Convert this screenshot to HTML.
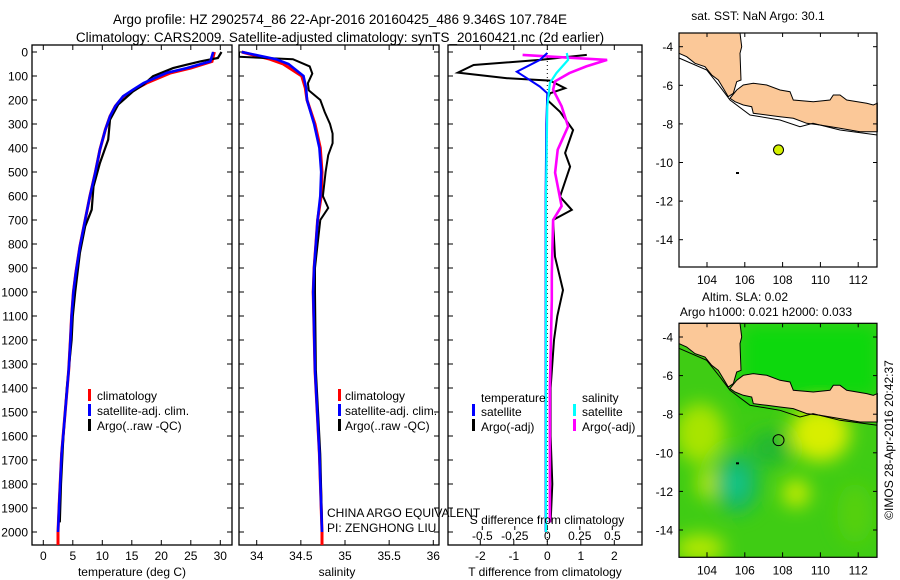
<!DOCTYPE html>
<html><head><meta charset="utf-8">
<style>
html,body{margin:0;padding:0;background:#fff;}
svg{display:block;font-family:"Liberation Sans",Arial,sans-serif;}
</style></head>
<body>
<svg id="fig" width="900" height="580" viewBox="0 0 900 580" xmlns="http://www.w3.org/2000/svg">
<defs>
<clipPath id="c1"><rect x="32" y="45" width="200" height="500"/></clipPath>
<clipPath id="c2"><rect x="239" y="45" width="200" height="500"/></clipPath>
<clipPath id="c3"><rect x="448" y="45" width="194" height="500"/></clipPath>
<clipPath id="cm1"><rect x="679" y="33" width="198" height="234"/></clipPath>
<clipPath id="cm2"><rect x="679" y="323" width="198" height="234"/></clipPath>
<filter id="blur" x="-50%" y="-50%" width="200%" height="200%"><feGaussianBlur stdDeviation="9"/></filter>
</defs>
<text x="340" y="24" font-size="13.5" text-anchor="middle">Argo profile: HZ 2902574_86 22-Apr-2016 20160425_486 9.346S 107.784E</text>
<text x="340" y="42" font-size="13.5" text-anchor="middle">Climatology: CARS2009. Satellite-adjusted climatology: synTS_20160421.nc (2d earlier)</text>

<g id="p1"></g>
<g id="p2"></g>
<g id="p3"></g>

<g font-size="12">
<rect x="88" y="389" width="3" height="12" fill="#f00"/><text x="97" y="400">climatology</text>
<rect x="88" y="404" width="3" height="12" fill="#00f"/><text x="97" y="415">satellite-adj. clim.</text>
<rect x="88" y="419" width="3" height="12" fill="#000"/><text x="97" y="430">Argo(..raw -QC)</text>
</g>
<g font-size="12">
<rect x="338" y="389" width="3" height="12" fill="#f00"/><text x="345" y="400">climatology</text>
<rect x="338" y="404" width="3" height="12" fill="#00f"/><text x="345" y="415">satellite-adj. clim.</text>
<rect x="338" y="419" width="3" height="12" fill="#000"/><text x="345" y="430">Argo(..raw -QC)</text>
</g>
<g font-size="12">
<text x="481" y="402">temperature</text>
<rect x="472" y="404" width="3" height="12" fill="#00f"/><text x="481" y="416">satellite</text>
<rect x="472" y="419" width="3" height="12" fill="#000"/><text x="481" y="431">Argo(-adj)</text>
<text x="582" y="402">salinity</text>
<rect x="573" y="404" width="3" height="12" fill="#0ff"/><text x="582" y="416">satellite</text>
<rect x="573" y="419" width="3" height="12" fill="#f0f"/><text x="582" y="431">Argo(-adj)</text>
</g>
<text x="327" y="517" font-size="12">CHINA ARGO EQUIVALENT</text>
<text x="327" y="532" font-size="12">PI: ZENGHONG LIU</text>

<text x="132" y="576" font-size="12" text-anchor="middle">temperature (deg C)</text>
<text x="337" y="576" font-size="12" text-anchor="middle">salinity</text>
<text x="545" y="576" font-size="12" text-anchor="middle">T difference from climatology</text>
<text x="547" y="524" font-size="12" text-anchor="middle">S difference from climatology</text>

<text x="758" y="20" font-size="12" text-anchor="middle">sat. SST: NaN Argo: 30.1</text>
<g id="m1"></g>
<text x="745" y="301" font-size="12" text-anchor="middle">Altim. SLA: 0.02</text>
<text x="766" y="316" font-size="12" text-anchor="middle">Argo h1000: 0.021 h2000: 0.033</text>
<g id="m2"></g>
<text x="0" y="0" font-size="12" transform="translate(893,440) rotate(-90)" text-anchor="middle">©IMOS 28-Apr-2016 20:42:37</text>
</svg>
<script>
const depthTempClim = [0,39,67,87,129,157,185,226,268,324,407,504,601,699,810,921,1000,1100,1200,1325,1533,1675,1883,2000,2054];
const tempClim = [29.0,28.6,25.0,21.6,17.5,15.4,13.6,12.2,11.3,10.5,9.6,8.8,7.9,7.1,6.2,5.5,5.1,4.8,4.6,4.3,3.6,3.1,2.7,2.5,2.5];
const depthTempSat = [0,39,67,87,129,157,185,226,268,324,407,504,601,699,810,921,1000,1100,1200,1325,1533,1675,1883,2000];
const tempSat = [28.8,28.3,24.3,20.9,17.0,15.2,13.5,12.2,11.3,10.5,9.6,8.8,7.9,7.1,6.2,5.5,5.1,4.8,4.6,4.3,3.6,3.1,2.7,2.5];
const depthTempArgo = [0,25,39,53,67,101,136,164,219,282,365,463,560,657,726,837,1000,1100,1200,1400,1600,1800,1960];
const tempArgo = [30.2,29.6,26.6,24.3,22.0,18.6,17.0,15.2,12.7,11.3,11.0,9.6,8.5,8.2,7.1,6.2,5.4,5.0,4.8,4.0,3.4,3.0,2.8];

const depthSalClim = [0,30,50,100,150,200,300,400,500,600,700,800,900,1000,1325,1675,2000,2054];
const salClim = [33.83,34.15,34.30,34.51,34.55,34.57,34.66,34.72,34.74,34.73,34.69,34.67,34.65,34.64,34.66,34.71,34.74,34.74];
const depthSalSat = [0,30,50,100,150,200,300,400,500,600,700,800,900,1000,1325,1675,2000];
const salSat = [33.83,34.22,34.36,34.53,34.56,34.57,34.65,34.71,34.73,34.72,34.69,34.67,34.65,34.64,34.66,34.71,34.74];
const depthSalArgo = [0,20,25,30,60,90,130,160,200,250,300,340,380,430,500,600,650,700,800,900,1000,1325,1675,1960];
const salArgo = [33.8,33.8,34.1,34.41,34.6,34.63,34.58,34.59,34.72,34.77,34.83,34.86,34.86,34.81,34.78,34.75,34.81,34.72,34.69,34.66,34.66,34.67,34.72,34.74];

const depthTdArgo = [12,33,54,86,109,119,151,172,200,249,325,421,478,603,658,700,853,992,1100,1200,1400,1600,1800,1960];
const tdArgo = [1.18,-0.22,-2.2,-2.67,-1.2,0.08,0.53,0.08,0.0,0.38,0.77,0.53,0.68,0.38,0.73,0.17,0.23,0.47,0.3,0.2,0.1,0.1,0.15,0.1];
const depthTdSat = [4,33,82,109,144,172,300,600,1000,1400,2000];
const tdSat = [0.0,-0.22,-0.91,-0.61,-0.22,0.0,-0.03,-0.05,-0.05,-0.05,-0.05];
const depthSdArgo = [12,33,60,88,122,157,226,310,407,503,642,700,922,1033,1400,1800,1960];
const sdArgo = [-0.19,0.46,0.30,0.17,0.06,0.045,0.11,0.16,0.08,0.06,0.11,0.045,0.035,0.035,0.02,0.02,0.02];
const depthSdSat = [4,33,88,129,226,600,1000,1400,2000];
const sdSat = [0.15,0.16,0.07,0.02,0.0,-0.01,-0.01,-0.01,-0.01];

const depthTicks = [0,100,200,300,400,500,600,700,800,900,1000,1100,1200,1300,1400,1500,1600,1700,1800,1900,2000];
const tempTicks = [0,5,10,15,20,25,30];
const salTicks = [34,34.5,35,35.5,36];
const tdTicks = [-2,-1,0,1,2];
const sdTicks = [-0.5,-0.25,0,0.25,0.5];
const lonTicks = [104,106,108,110,112];
const latTicks = [-4,-6,-8,-10,-12,-14];
const argoLon = 107.784, argoLat = -9.346;

const NS = 'http://www.w3.org/2000/svg';
const yD = d => 52 + d * 0.24;
const xT = t => 43.3 + t * 5.9;
const xS = s => 256.7 + (s - 34) * 88.3;
const xTd = v => 547.3 + v * 33.5;
const xSd = v => 547.3 + v * 130;
const mLon = l => 707 + (l - 104) * 18.9;
const mLat = (l, off) => off + 46.7 + (-4 - l) * 19.3;

function el(tag, attrs, parent) {
  const e = document.createElementNS(NS, tag);
  for (const k in attrs) e.setAttribute(k, attrs[k]);
  parent.appendChild(e);
  return e;
}
function series(parent, depths, vals, xf, color, w, clip, name) {
  const pts = depths.map((d, i) => xf(vals[i]).toFixed(1) + ',' + yD(d).toFixed(1)).join(' ');
  const p = el('polyline', {points: pts, fill: 'none', stroke: color, 'stroke-width': w, 'clip-path': 'url(#' + clip + ')', 'stroke-linejoin': 'miter'}, parent);
  
  
}
function frame(parent, x0, x1, name) {
  const r = el('rect', {x: x0, y: 45, width: x1 - x0, height: 500, fill: 'none', stroke: '#000', 'stroke-width': 1.3}, parent);
  
  
  depthTicks.forEach(d => {
    el('line', {x1: x0, x2: x0 + 5, y1: yD(d), y2: yD(d), stroke: '#000'}, parent);
    el('line', {x1: x1 - 5, x2: x1, y1: yD(d), y2: yD(d), stroke: '#000'}, parent);
  });
}
function xticks(parent, ticks, xf, ly, fmt, top, name) {
  ticks.forEach(t => {
    const x = xf(t);
    el('line', {x1: x, x2: x, y1: 540, y2: 545, stroke: '#000'}, parent);
    if (top) el('line', {x1: x, x2: x, y1: 45, y2: 50, stroke: '#000'}, parent);
    const tx = el('text', {x: x, y: ly, 'font-size': 12, 'text-anchor': 'middle'}, parent);
    tx.textContent = fmt ? fmt(t) : String(t);
    
    
  });
}

const p1 = document.getElementById('p1');
frame(p1, 32, 232, 'temperature-plot-frame');
depthTicks.forEach(d => {
  const t = el('text', {x: 28, y: yD(d) + 4.5, 'font-size': 12, 'text-anchor': 'end'}, p1);
  t.textContent = String(d);
  
  
});
xticks(p1, tempTicks, xT, 560, null, true, 'temperature-tick-label');
series(p1, depthTempClim, tempClim, xT, '#f00', 3, 'c1', 'temperature-climatology-line');
series(p1, depthTempArgo, tempArgo, xT, '#000', 2.2, 'c1', 'temperature-argo-line');
series(p1, depthTempSat, tempSat, xT, '#00f', 2.6, 'c1', 'temperature-satellite-line');

const p2 = document.getElementById('p2');
frame(p2, 239, 439, 'salinity-plot-frame');
xticks(p2, salTicks, xS, 560, null, true, 'salinity-tick-label');
series(p2, depthSalClim, salClim, xS, '#f00', 3, 'c2', 'salinity-climatology-line');
series(p2, depthSalArgo, salArgo, xS, '#000', 2, 'c2', 'salinity-argo-line');
series(p2, depthSalSat, salSat, xS, '#00f', 2.6, 'c2', 'salinity-satellite-line');

const p3 = document.getElementById('p3');
frame(p3, 448, 642, 'difference-plot-frame');
xticks(p3, tdTicks, xTd, 560, null, true, 't-difference-tick-label');
sdTicks.forEach(t => {
  const x = xSd(t);
  el('line', {x1: x, x2: x, y1: 526, y2: 530, stroke: '#000'}, p3);
  const tx = el('text', {x: x, y: 540, 'font-size': 12, 'text-anchor': 'middle'}, p3);
  tx.textContent = String(t);
  
  
});
const zl = el('line', {x1: xTd(0), x2: xTd(0), y1: 45, y2: 545, stroke: '#000', 'stroke-dasharray': '1,3'}, p3);


series(p3, depthTdArgo, tdArgo, xTd, '#000', 2, 'c3', 't-difference-argo-line');
series(p3, depthSdArgo, sdArgo, xSd, '#f0f', 2.6, 'c3', 's-difference-argo-line');
series(p3, depthTdSat, tdSat, xTd, '#00f', 2, 'c3', 't-difference-satellite-line');
series(p3, depthSdSat, sdSat, xSd, '#0ff', 2.2, 'c3', 's-difference-satellite-line');

const sumatra = [[0,0],[61,0],[62.7,13.7],[61,20.3],[62,47],[57.7,48.7],[54.3,60.3],[49.3,63.7],[44.3,55.3],[39.3,47],[32.7,42],[26,33.7],[16,30.3],[7.7,23.7],[0,20.3]];
const java = [[57.7,57],[64.3,52],[74.3,50.3],[87.7,52],[101,57],[111,58.7],[114.3,67],[134.3,68.7],[151,67],[154.3,62],[161,62],[167.7,67],[187.7,70.3],[194.3,72],[198.3,70.3],[198.3,98.7],[181,98.7],[161,95.3],[141,92],[127.7,90.3],[114.3,85.3],[101,83.7],[87.7,82],[74.3,80.3],[72.7,73.7],[64.3,72],[56,68.7],[51,65.3]];
const shelf = [[0,25],[27.7,37],[41,53.7],[51,67],[71,82],[101,87],[121,93.7],[134,90.3],[161,97],[198.3,102]];
function poly(pts, ox, oy) { return pts.map(p => (p[0] + ox).toFixed(1) + ',' + (p[1] + oy).toFixed(1)).join(' '); }

function drawMap(g, oy, clip, colored) {
  const top = 33 + oy;
  if (colored) {
    const cg = el('g', {'clip-path': 'url(#' + clip + ')'}, g);
    el('rect', {x: 679, y: top, width: 198, height: 234, fill: '#3fcc14'}, cg);
    const bg = el('g', {filter: 'url(#blur)'}, cg);
    el('rect', {x: 740, y: top, width: 140, height: 75, fill: '#11d811'}, bg);
    el('ellipse', {cx: 820, cy: top + 110, rx: 30, ry: 28, fill: '#d8ee00'}, bg);
    el('ellipse', {cx: 700, cy: top + 110, rx: 25, ry: 30, fill: '#a8e400'}, bg);
    el('ellipse', {cx: 710, cy: top + 160, rx: 14, ry: 16, fill: '#b0e600'}, bg);
    el('ellipse', {cx: 796, cy: top + 170, rx: 14, ry: 14, fill: '#c6ec00'}, bg);
    el('ellipse', {cx: 737, cy: top + 160, rx: 22, ry: 30, fill: '#14b860'}, bg);
    el('ellipse', {cx: 735, cy: top + 160, rx: 10, ry: 14, fill: '#18c890'}, bg);
    el('ellipse', {cx: 770, cy: top + 125, rx: 20, ry: 18, fill: '#20b830'}, bg);
    el('ellipse', {cx: 700, cy: top + 225, rx: 25, ry: 14, fill: '#b4e800'}, bg);
    el('ellipse', {cx: 855, cy: top + 190, rx: 18, ry: 30, fill: '#55d010'}, bg);
  }
  const land1 = el('polygon', {points: poly(sumatra, 679, top), fill: '#fbc898', stroke: '#000', 'stroke-width': 1}, g);
  
  
  const land2 = el('polygon', {points: poly(java, 679, top), fill: '#fbc898', stroke: '#000', 'stroke-width': 1}, g);
  
  
  el('polyline', {points: poly(shelf, 679, top), fill: 'none', stroke: '#000', 'stroke-width': 1}, g);
  const isl = el('rect', {x: 736, y: top + 139, width: 3, height: 2, fill: '#000'}, g);
  
  
  const dot = el('circle', {cx: mLon(argoLon), cy: mLat(argoLat, oy), r: colored ? 5.5 : 5, fill: colored ? 'none' : '#d4f000', stroke: '#000', 'stroke-width': 1}, g);
  
  
  const fr = el('rect', {x: 679, y: top, width: 198, height: 234, fill: 'none', stroke: '#000', 'stroke-width': 1.2}, g);
  
  
  lonTicks.forEach(l => {
    const x = mLon(l);
    el('line', {x1: x, x2: x, y1: top + 229, y2: top + 234, stroke: '#000'}, g);
    el('line', {x1: x, x2: x, y1: top, y2: top + 4, stroke: '#000'}, g);
    const t = el('text', {x: x, y: top + 251, 'font-size': 12, 'text-anchor': 'middle'}, g);
    t.textContent = String(l);
    
    
  });
  latTicks.forEach(l => {
    const y = mLat(l, oy);
    el('line', {x1: 679, x2: 683, y1: y, y2: y, stroke: '#000'}, g);
    el('line', {x1: 873, x2: 877, y1: y, y2: y, stroke: '#000'}, g);
    const t = el('text', {x: 673, y: y + 4.5, 'font-size': 12, 'text-anchor': 'end'}, g);
    t.textContent = String(l);
    
    
  });
}
drawMap(document.getElementById('m1'), 0, 'cm1', false);
drawMap(document.getElementById('m2'), 290.3, 'cm2', true);
</script>
</body></html>
